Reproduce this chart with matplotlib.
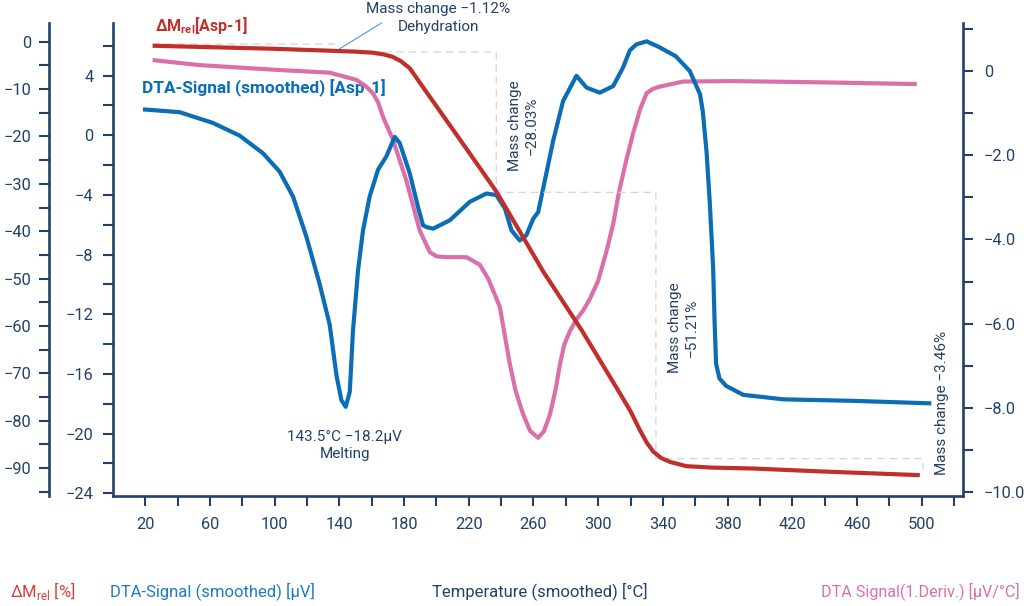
import matplotlib
matplotlib.use("Agg")
import matplotlib.pyplot as plt
from matplotlib.ticker import FixedLocator

plt.rcParams['font.family'] = ['Roboto', 'DejaVu Sans']
plt.rcParams['mathtext.fontset'] = 'custom'
plt.rcParams['mathtext.rm'] = 'Roboto'
plt.rcParams['mathtext.bf'] = 'Roboto:bold'

# ---------------- data ----------------
# Mass change ΔM_rel [%] (outer left axis)
mass_temp = [24.5, 60, 100, 134, 150, 160, 167, 173, 178, 183.5, 191.7, 216.5, 237, 266,
             290, 313.4, 320, 325.8, 330, 334, 339, 344.4, 354.6, 370, 395.9, 437, 498.9]
mass_val = [-0.85, -1.15, -1.5, -1.9, -2.1, -2.3, -2.65, -3.2, -4.1, -5.6, -9.6, -21.6,
            -31.6, -48.5, -61.0, -74.2, -78.0, -82.0, -84.6, -86.5, -87.9, -88.7, -89.6,
            -89.9, -90.1, -90.7, -91.5]

# DTA signal (smoothed) [µV] (inner left axis)
dta_temp = [18.5, 41.2, 61.8, 78.3, 92.7, 103, 111.3, 119.6, 127.8, 134, 138.2, 141.2,
            143.9, 146.4, 148.4, 151.5, 154.6, 158.7, 163.9, 169, 174.2, 177.3, 183.5,
            188.6, 191.7, 193.8, 197.9, 208.2, 220.6, 230.9, 237, 242.3, 246.4, 251.5,
            255.6, 259.8, 262.9, 266, 272.1, 278.3, 286.6, 292.8, 301, 309.3, 315.4, 319.6,
            323.7, 330, 338, 348, 356.7, 363, 364.7, 367, 369, 371.1, 372, 372.9, 375,
            379.1, 389.8, 414.5, 457.5, 506]
dta_val = [1.74, 1.55, 0.83, -0.02, -1.2, -2.43, -4.1, -6.8, -9.98, -12.7, -16.1, -17.75,
           -18.2, -17.2, -13.1, -9.07, -6.37, -4.1, -2.3, -1.42, -0.1, -0.52, -2.55, -4.8,
           -6.03, -6.15, -6.26, -5.7, -4.46, -3.9, -4.0, -4.9, -6.37, -7.05, -6.7, -5.6,
           -5.15, -3.56, -0.4, 2.3, 3.99, 3.2, 2.86, 3.3, 4.55, 5.7, 6.1, 6.3, 5.9, 5.3,
           4.3, 2.75, 1.6, -1.08, -4.46, -8.9, -12.5, -15.3, -16.3, -16.8, -17.4, -17.7,
           -17.8, -17.97]

# DTA signal 1st derivative [µV/°C] (right axis)
der_temp = [24.5, 53.7, 100, 134, 150.5, 156, 160.8, 164, 167, 173.2, 181.4, 189.7, 195.9,
            200, 206.2, 218.6, 226.8, 232, 236, 239.2, 245.4, 249, 253.6, 258, 262.9,
            266.5, 270.2, 273.5, 276.4, 279, 282.6, 286.5, 290.7, 295, 300, 305, 309.3,
            313, 317.5, 321.6, 326, 329.9, 334, 338.2, 352.5, 383.7, 440, 497]
der_val = [0.26, 0.14, 0.03, -0.04, -0.21, -0.35, -0.53, -0.75, -1.09, -1.64, -2.6, -3.79,
           -4.3, -4.4, -4.42, -4.42, -4.6, -4.93, -5.3, -5.6, -6.96, -7.6, -8.15, -8.55,
           -8.71, -8.55, -8.15, -7.6, -6.96, -6.5, -6.17, -5.9, -5.69, -5.4, -4.98, -4.3,
           -3.63, -2.85, -2.1, -1.48, -0.9, -0.53, -0.42, -0.37, -0.25, -0.24, -0.27, -0.31]

# Mass-change step annotation (dashed guide): temperatures and levels
step_temp = [24.5, 137, 137, 139, 237, 237, 335.7, 335.7, 500.8, 500.8]
step_mass = [-0.5, -0.5, -1.75, -2.18, -2.18, -31.8, -31.8, -88.0, -88.0, -91.5]

x_major = [20, 60, 100, 140, 180, 220, 260, 300, 340, 380, 420, 460, 500]
x_minor = [40, 80, 120, 160, 200, 240, 280, 320, 360, 400, 440, 480, 520]
dta_major = [4, 0, -4, -8, -12, -16, -20, -24]
dta_minor = [6, 2, -2, -6, -10, -14, -18, -22]
mass_major = [0, -10, -20, -30, -40, -50, -60, -70, -80, -90]
mass_minor = [-5, -15, -25, -35, -45, -55, -65, -75, -85, -95]
der_major = [0, -2, -4, -6, -8, -10]
der_labels = ["0", "−2.0", "−4.0", "−6.0", "−8.0", "−10.0"]
der_minor = [1, -1, -3, -5, -7, -9]

# ---------------- styling ----------------
NAVY = '#22416a'
RED = '#c12f2a'
BLUE = '#0a6db5'
PINK = '#da6fab'
DASH = '#d4d4d4'
W, H = 1024, 606

fig = plt.figure(figsize=(W / 100, H / 100), dpi=100)
ax = fig.add_axes([113 / W, 1 - 496 / H, 850 / W, 473 / H])
ax.set_xlim(0, 525.6)
ax.set_ylim(-24.18, 7.53)
axm = ax.twinx()
axm.set_ylim(-95.9, 3.95)
axr = ax.twinx()
axr.set_ylim(-10.09, 1.14)
# drawing order: pink (bottom), blue, red (top)
axr.set_zorder(1)
ax.set_zorder(2)
axm.set_zorder(3)

for a in (ax, axm, axr):
    for s in a.spines.values():
        s.set_visible(False)
        s.set_color(NAVY)
        s.set_linewidth(1.9)
    a.patch.set_visible(False)

tick_kw = dict(length=7, width=1.5, color=NAVY, labelcolor=NAVY, labelsize=11.8)

# x-axis and inner DTA axis
ax.spines['bottom'].set_visible(True)
ax.spines['left'].set_visible(True)
ax.set_xticks(x_major)
ax.xaxis.set_minor_locator(FixedLocator(x_minor))
ax.tick_params(axis='x', which='both', direction='out', pad=8, **tick_kw)
ax.set_yticks(dta_major)
ax.yaxis.set_minor_locator(FixedLocator(dta_minor))
ax.tick_params(axis='y', which='both', direction='out', pad=7, **tick_kw)
ax.set_yticklabels([str(v).replace('-', '−') for v in dta_major])

# outer mass axis (left)
axm.yaxis.tick_left()
axm.spines['left'].set_visible(True)
axm.spines['left'].set_position(('axes', -0.0753))
axm.set_yticks(mass_major)
axm.set_yticklabels([str(v).replace('-', '−') for v in mass_major])
axm.yaxis.set_minor_locator(FixedLocator(mass_minor))
axm.tick_params(axis='y', which='both', direction='out', pad=6, **tick_kw)

# right derivative axis
axr.spines['right'].set_visible(True)
axr.set_yticks(der_major)
axr.set_yticklabels(der_labels)
axr.yaxis.set_minor_locator(FixedLocator(der_minor))
axr.tick_params(axis='y', which='both', direction='out', pad=8, **tick_kw)

# ---------------- curves ----------------
ax.plot(dta_temp, dta_val, color=BLUE, lw=3.0, solid_capstyle='butt',
        solid_joinstyle='round', zorder=3)
axm.plot(step_temp, step_mass, color=DASH, lw=0.9, ls=(0, (6, 4)), zorder=1)
axm.plot(mass_temp, mass_val, color=RED, lw=3.0, solid_capstyle='butt',
         solid_joinstyle='round', zorder=3)
axr.plot(der_temp, der_val, color=PINK, lw=3.0, solid_capstyle='butt',
         solid_joinstyle='round', zorder=3)

# ---------------- annotations ----------------
axm.plot([139, 166], [-1.75, 3.95], color='#4a9ad6', lw=0.8, clip_on=False, zorder=2)
fig.text(438.5 / W, 1 - 18 / H, "Mass change −1.12%\nDehydration", color=NAVY,
         fontsize=11, ha='center', va='center', linespacing=1.3)
axm.text(254, -17.8, "Mass change\n−28.03%", color=NAVY, fontsize=11, rotation=90,
         ha='center', va='center', linespacing=1.25)
axm.text(352.4, -60.3, "Mass change\n−51.21%", color=NAVY, fontsize=11, rotation=90,
         ha='center', va='center', linespacing=1.25)
axm.text(512.6, -76.2, "Mass change −3.46%", color=NAVY, fontsize=11, rotation=90,
         ha='center', va='center')
ax.text(143.4, -20.8, "143.5°C −18.2µV\nMelting", color=NAVY, fontsize=11,
        ha='center', va='center', linespacing=1.3)

axm.text(26, 3.4, r"ΔM$_{\mathbf{rel}}$[Asp-1]", color=RED, fontsize=11.5,
         fontweight='bold', ha='left', va='center')
# placed on the derivative axes, below the pink curve (as in the reference)
axr.text(17.7, -0.4, "DTA-Signal (smoothed) [Asp-1]", color=BLUE, fontsize=12.4,
         fontweight='bold', ha='left', va='center', zorder=1)

# ---------------- bottom axis titles ----------------
yb = 1 - 591 / H
fig.text(10 / W, yb, r"ΔM$_{\mathrm{rel}}$ [%]", color='#d8413a', fontsize=12, ha='left', va='center')
fig.text(110 / W, yb, "DTA-Signal (smoothed) [µV]", color='#1a7cc2', fontsize=12, ha='left', va='center')
fig.text(432 / W, yb, "Temperature (smoothed) [°C]", color=NAVY, fontsize=12, ha='left', va='center')
fig.text(1020 / W, yb, "DTA Signal(1.Deriv.) [µV/°C]", color=PINK, fontsize=11.6, ha='right', va='center')

fig.savefig("out.png", dpi=100)
